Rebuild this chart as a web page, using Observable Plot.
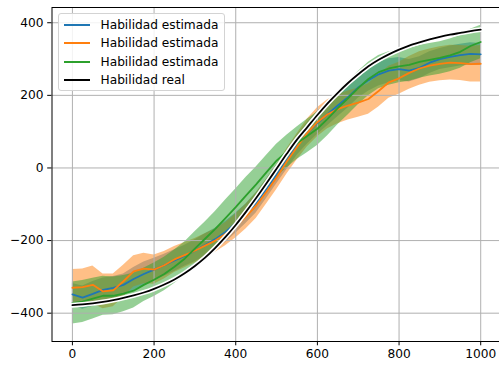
<!DOCTYPE html>
<html>
<head>
<meta charset="utf-8">
<script src="https://cdn.jsdelivr.net/npm/d3@7"></script>
<script src="https://cdn.jsdelivr.net/npm/@observablehq/plot@0.6"></script>
<style>
  html, body { margin: 0; padding: 0; background: #fff; }
  #wrap { position: relative; width: 499px; height: 365px; overflow: hidden; font-family: "DejaVu Sans", sans-serif; }
  #legend { position: absolute; left: 57.5px; top: 13px; width: 167px; height: 78px; box-sizing: border-box;
            border: 1px solid #d3d3d3; border-radius: 3px; background: rgba(255,255,255,0.85); }
  .item { position: absolute; left: 0; height: 18px; display: flex; align-items: center; font-size: 12.2px; color: #000; white-space: nowrap; }
  .sw { display: inline-block; width: 26.5px; height: 2px; margin-left: 5px; margin-right: 10.5px; }
</style>
</head>
<body>
<div id="wrap"></div>
<script>
const xs = [0,25,50,75,100,125,150,175,200,225,250,275,300,325,350,375,400,425,450,475,500,
            525,550,575,600,625,650,675,700,725,750,775,800,825,850,875,900,925,950,975,1000];

const realY = [-378,-376,-373,-369,-364,-358,-351,-343,-333,-321,-307,-290,-270,-247,-220,-190,-157,-121,-83,-43,-2,
               39,78,112,146,178,207,234,258,280,298,313,326,337,346,354,361,367,372,377,381];

const blueY = [-348,-357,-347,-336,-330,-322,-306,-292,-280,-268,-255,-242,-228,-212,-196,-176,-152,-126,-96,-58,-18,
               22,62,95,124,148,172,195,222,242,258,268,272,268,276,290,300,306,311,314,313];
const blueHW = [30,32,34,33,31,30,32,33,31,30,30,29,30,31,30,29,28,27,28,27,26,
                27,28,30,32,32,31,30,30,31,32,33,32,31,30,30,29,30,30,31,30];

const orangeY = [-330,-328,-322,-340,-337,-312,-285,-277,-280,-268,-252,-240,-228,-214,-200,-182,-160,-134,-104,-66,-26,
                 18,58,96,126,148,162,172,180,190,212,236,247,262,274,282,287,290,289,286,287];
const orangeHW = [50,50,52,48,45,44,43,42,40,38,36,35,34,33,32,32,33,34,35,34,34,
                  35,36,38,40,40,40,40,40,42,44,44,44,45,46,46,47,48,48,49,50];

const greenY = [-372,-368,-360,-352,-352,-346,-338,-322,-308,-292,-272,-250,-222,-195,-168,-138,-108,-76,-45,-12,20,
                45,68,88,108,135,165,192,220,245,264,274,280,284,292,298,303,310,320,336,347];
const greenHW = [58,58,56,54,52,50,48,46,46,46,46,46,46,46,48,50,50,50,48,46,45,
                 45,45,46,46,46,46,46,46,46,46,46,45,45,45,45,45,45,45,46,46];

const xTicks = [0,200,400,600,800,1000];
const yTicks = [-400,-200,0,200,400];

const names = ["Habilidad estimada","Habilidad estimada","Habilidad estimada","Habilidad real"];
const colors = ["#1f77b4","#ff7f0e","#2ca02c","#000000"];

function rows(ys, hw) {
  return xs.map((x, i) => ({x, y: ys[i], lo: ys[i] - hw[i], hi: ys[i] + hw[i]}));
}
const blue = rows(blueY, blueHW);
const orange = rows(orangeY, orangeHW);
const green = rows(greenY, greenHW);
const real = xs.map((x, i) => ({x, y: realY[i]}));

const fmt = d => d < 0 ? "\u2212" + Math.abs(d) : String(d);

const chart = Plot.plot({
  width: 499,
  height: 365,
  marginLeft: 51.5,
  marginRight: 0,
  marginTop: 7,
  marginBottom: 24,
  style: {fontFamily: "DejaVu Sans, sans-serif", fontSize: "12.2px", color: "#000", background: "#fff"},
  x: {domain: [-50, 1046], ticks: xTicks, tickFormat: fmt, tickSize: 4.3, tickPadding: 4, label: null},
  y: {domain: [-478, 442], ticks: yTicks, tickFormat: fmt, tickSize: 4.3, tickPadding: 4.3, label: null},
  marks: [
    Plot.areaY(blue, {x: "x", y1: "lo", y2: "hi", fill: colors[0], fillOpacity: 0.5}),
    Plot.areaY(orange, {x: "x", y1: "lo", y2: "hi", fill: colors[1], fillOpacity: 0.5}),
    Plot.areaY(green, {x: "x", y1: "lo", y2: "hi", fill: colors[2], fillOpacity: 0.5}),
    Plot.gridX(xTicks, {stroke: "#b0b0b0", strokeOpacity: 1, strokeWidth: 1}),
    Plot.gridY(yTicks, {stroke: "#b0b0b0", strokeOpacity: 1, strokeWidth: 1}),
    Plot.line(blue, {x: "x", y: "y", stroke: colors[0], strokeWidth: 1.8}),
    Plot.line(orange, {x: "x", y: "y", stroke: colors[1], strokeWidth: 1.8}),
    Plot.line(green, {x: "x", y: "y", stroke: colors[2], strokeWidth: 1.8}),
    Plot.line(real, {x: "x", y: "y", stroke: "#fff", strokeWidth: 5, curve: "monotone-x"}),
    Plot.line(real, {x: "x", y: "y", stroke: "#000", strokeWidth: 1.8, curve: "monotone-x"}),
    Plot.frame({stroke: "#000", strokeWidth: 1})
  ]
});

const wrap = document.getElementById("wrap");
wrap.appendChild(chart);

const legend = document.createElement("div");
legend.id = "legend";
const tops = [2, 20.3, 38.7, 57];
names.forEach((n, i) => {
  const it = document.createElement("div");
  it.className = "item";
  it.style.top = tops[i] + "px";
  const sw = document.createElement("span");
  sw.className = "sw";
  sw.style.background = colors[i];
  const t = document.createElement("span");
  t.textContent = n;
  it.appendChild(sw);
  it.appendChild(t);
  legend.appendChild(it);
});
wrap.appendChild(legend);
</script>
</body>
</html>
